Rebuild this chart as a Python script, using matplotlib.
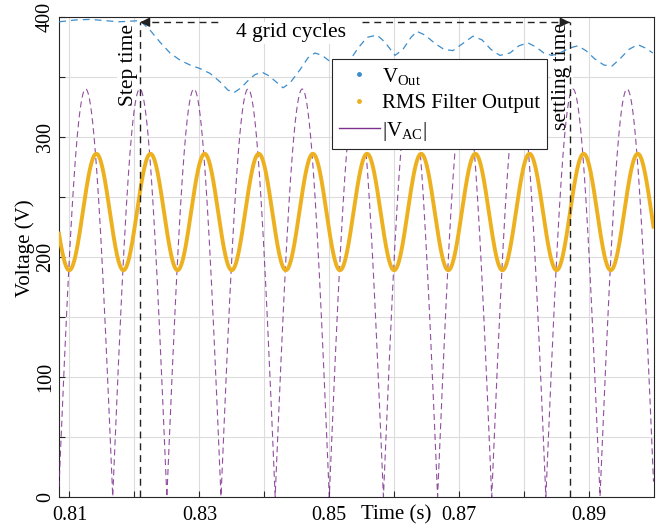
import numpy as np
import matplotlib
matplotlib.use("Agg")
import matplotlib.pyplot as plt
from matplotlib.lines import Line2D

plt.rcParams["font.family"] = ["Liberation Serif", "DejaVu Serif"]
plt.rcParams["mathtext.fontset"] = "custom"
plt.rcParams["mathtext.rm"] = "Liberation Serif"
plt.rcParams["mathtext.it"] = "Liberation Serif:italic"

# ---- values ----
# V_out (blue): time (s) and voltage (V)
vout_t = [0.80842, 0.81088, 0.81318, 0.81549, 0.81749, 0.81934, 0.82088,
          0.82242, 0.82395, 0.82549, 0.82703, 0.82857, 0.83011, 0.83165,
          0.83318, 0.83442, 0.83534, 0.83642, 0.83749, 0.83857, 0.83965,
          0.84072, 0.84180, 0.84288, 0.84395, 0.84549, 0.84672, 0.84780,
          0.84888, 0.85011, 0.85165, 0.85318, 0.85442, 0.85580, 0.85734,
          0.85857, 0.86011, 0.86134, 0.86257, 0.86349, 0.86472, 0.86626,
          0.86765, 0.86903, 0.87057, 0.87211, 0.87349, 0.87488, 0.87626,
          0.87780, 0.87918, 0.88057, 0.88180, 0.88303, 0.88426, 0.88549,
          0.88688, 0.88826, 0.88949, 0.89088, 0.89226, 0.89349, 0.89472,
          0.89611, 0.89749, 0.89872, 0.89980]
vout_v = [396, 397.5, 398, 397, 396, 396.5, 397,
          389, 379, 370, 364, 360, 357, 353,
          346, 339, 337, 341, 347, 352, 354,
          351, 346, 341, 345, 356, 366, 370,
          368, 363, 359, 364, 374, 383, 385,
          379, 368, 373, 383, 388, 385, 378,
          373, 372, 378, 384, 381, 373, 368,
          370, 376, 378.5, 375, 370, 368, 370,
          374, 376, 372, 365, 360, 359, 365,
          373, 377, 374, 370]

# |V_AC| (purple): rectified grid voltage
grid_freq = 60.0          # Hz
vac_peak = 340.0          # V
vac_zero_time = 0.85      # s, a zero crossing

# RMS filter output (orange): 120 Hz ripple
rms_max = 286.0
rms_min = 189.0
rms_peak_time = 0.84748   # s, one of the maxima

step_time = 0.8209
settling_time = 0.8870
arrow_level = 395.6

x_ticks = [0.81, 0.82, 0.83, 0.84, 0.85, 0.86, 0.87, 0.88, 0.89]
x_tick_labels = ["0.81", "", "0.83", "", "0.85", "", "0.87", "", "0.89"]
y_ticks = [0, 50, 100, 150, 200, 250, 300, 350, 400]
y_tick_labels = ["0", "", "100", "", "200", "", "300", "", "400"]

t_min, t_max = 0.8084, 0.8999

# ---- figure ----
fig = plt.figure(figsize=(6.62, 5.27), dpi=100)
ax = fig.add_axes([59 / 662, 30 / 527, 594.5 / 662, 480 / 527])

t = np.arange(t_min, t_max, 1e-5)
vac = vac_peak * np.abs(np.sin(2 * np.pi * grid_freq * (t - vac_zero_time)))
rms = (rms_max + rms_min) / 2 + (rms_max - rms_min) / 2 * np.cos(
    2 * np.pi * 2 * grid_freq * (t - rms_peak_time))

c_blue = "#3b8dcc"
c_orange = "#EDB120"
c_purple = "#7E2F8E"

ax.plot(vout_t, vout_v, color=c_blue, lw=0.9, dashes=(5.5, 4), zorder=3)
ax.plot(t, vac, color=c_purple, lw=0.8, dashes=(5.5, 3.5), alpha=0.85,
        zorder=3)
ax.plot(t, rms, color=c_orange, lw=2.8, zorder=3.2)

# step / settling markers
dark = "#222222"
ax.plot([step_time, step_time], [0, arrow_level], color=dark, lw=1.0,
        dashes=(5, 3.5), zorder=4)
ax.plot([settling_time, settling_time], [0, arrow_level], color=dark,
        lw=1.0, dashes=(5, 3.5), zorder=4)
ax.plot([step_time, 0.83318], [arrow_level, arrow_level], color=dark,
        lw=1.0, dashes=(5, 3.5), zorder=4)
ax.plot([0.85503, settling_time], [arrow_level, arrow_level],
        color=dark, lw=1.0, dashes=(5, 3.5), zorder=4)
for tip, tail in [(step_time, step_time + 0.0014),
                  (settling_time, settling_time - 0.0014)]:
    ax.annotate("", xy=(tip, arrow_level), xytext=(tail, arrow_level),
                arrowprops=dict(arrowstyle="-|>", color=dark, lw=1.0,
                                mutation_scale=14, shrinkA=0, shrinkB=0),
                zorder=4)

box = dict(facecolor="white", edgecolor="none", pad=1)
ax.text(0.81903, 359.6, "Step time", rotation=90, ha="center", va="center",
        fontsize=15.5, bbox=box, zorder=2.5)
ax.text(0.8858, 350, "settling time", rotation=90, ha="center",
        va="center", fontsize=15.5, bbox=box, zorder=2.5)
ax.text(0.84411, 386.7, "4 grid cycles", ha="center", va="center",
        fontsize=15.5, bbox=box, zorder=2.5)

ax.set_xlim(t_min, t_max)
ax.set_ylim(0, 400)
ax.set_xticks(x_ticks)
ax.set_xticklabels(x_tick_labels)
ax.set_yticks(y_ticks)
ax.set_yticklabels(y_tick_labels, rotation=90, va="center")
ax.tick_params(direction="in", length=4, width=0.8, labelsize=14.5,
               colors="#262626", labelcolor="black")
ax.tick_params(axis="x", pad=6.5)
ax.tick_params(axis="y", pad=3)
ax.grid(True, color="#dcdcdc", lw=0.8, zorder=0)
ax.set_axisbelow(True)
for s in ax.spines.values():
    s.set_color("#262626")
    s.set_linewidth(0.8)

ax.text(-0.057, 0.519, "Voltage (V)", rotation=90, ha="center", va="center",
        fontsize=15, transform=ax.transAxes)
ax.text(0.567, -0.038, "Time (s)", ha="center", va="center", fontsize=15,
        transform=ax.transAxes)

handles = [
    Line2D([], [], color=c_blue, marker=".", ls="none", markersize=5),
    Line2D([], [], color=c_orange, marker=".", ls="none", markersize=5),
    Line2D([], [], color=c_purple, lw=1.0),
]
labels = [r"$\mathrm{V_{Out}}$", "RMS Filter Output", r"$|\mathrm{V_{AC}}|$"]
leg = ax.legend(handles, labels, loc="upper left",
                bbox_to_anchor=(0.459, 0.9125), borderaxespad=0,
                fontsize=15, fancybox=False, framealpha=1,
                edgecolor="#262626", handlelength=2.0, handletextpad=0.1,
                labelspacing=0.32, borderpad=0.32)
leg.get_frame().set_linewidth(0.8)
leg.set_zorder(6)

fig.savefig("out.png", dpi=100)
